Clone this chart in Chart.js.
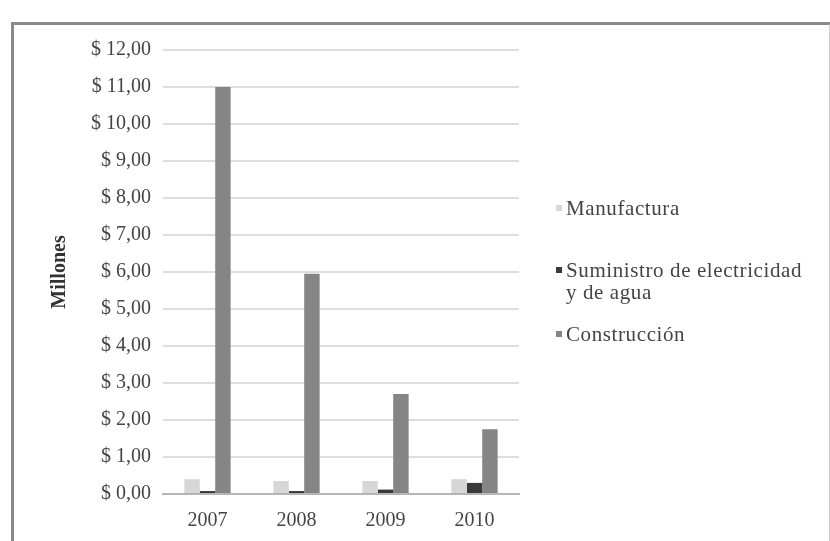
<!DOCTYPE html>
<html>
<head>
<meta charset="utf-8">
<script src="https://cdn.jsdelivr.net/npm/chart.js@4"></script>
<style>
  html, body { margin: 0; padding: 0; background: #fff; }
  #wrap { position: relative; width: 830px; height: 541px; overflow: hidden; }
  #frame { position: absolute; left: 11px; top: 22px; width: 815px; height: 540px;
           border-left: 3px solid #8a8a8a; border-top: 3px solid #8a8a8a; border-right: 2px solid #cfcfcf; }
  #legend { position: absolute; left: 556px; top: 197px; font: 21px "Liberation Serif", serif; color: #444; letter-spacing: 0.6px; }
  #legend .item { position: absolute; left: 0; white-space: nowrap; line-height: 22px; }
  #legend .sw { display: inline-block; width: 6px; height: 6px; margin-right: 4px; vertical-align: 4px; }
</style>
</head>
<body>
<div id="wrap">
  <div id="frame"></div>
  <canvas id="chart" width="830" height="541"></canvas>
  <div id="legend"></div>
</div>
<script>
// values (millones)
const years = ["2007", "2008", "2009", "2010"];
const manufactura = [0.4, 0.35, 0.35, 0.4];
const suministro = [0.08, 0.08, 0.12, 0.3];
const construccion = [11.0, 5.95, 2.7, 1.75];
const seriesNames = ["Manufactura", "Suministro de electricidad\ny de agua", "Construcción"];
const seriesColors = ["#d6d6d6", "#3a3a3a", "#858585"];

const font = { family: "'Liberation Serif', serif", size: 20 };

const ctx = document.getElementById("chart").getContext("2d");
const chart = new Chart(ctx, {
  type: "bar",
  data: {
    labels: years,
    datasets: [manufactura, suministro, construccion].map((d, i) => ({
      label: seriesNames[i],
      data: d,
      backgroundColor: seriesColors[i],
      borderWidth: 0,
      categoryPercentage: 0.52,
      barPercentage: 1.0,
    })),
  },
  options: {
    responsive: false,
    animation: false,
    layout: { padding: { left: 48, right: 311, top: 50, bottom: 0 } },
    plugins: { legend: { display: false }, tooltip: { enabled: false } },
    scales: {
      x: {
        afterFit: (s) => { s.height = 47; },
        grid: { display: false },
        border: { color: "#b5b5b5", width: 2 },
        ticks: { color: "#444", font: font, padding: 7 },
      },
      y: {
        min: 0,
        max: 12,
        afterFit: (s) => { s.width = 115; },
        grid: { color: "#dedede", lineWidth: 2, drawTicks: false },
        border: { display: false },
        ticks: {
          stepSize: 1,
          color: "#444",
          font: font,
          padding: 12,
          callback: (v) => "$ " + v.toFixed(2).replace(".", ","),
        },
        title: { display: true, text: "Millones", color: "#333", font: { family: font.family, size: 20, weight: "bold" }, padding: 0 },
      },
    },
  },
});

// html legend, so the second label can wrap like the reference
const legendEl = document.getElementById("legend");
const tops = [0, 62, 126];
seriesNames.forEach((name, i) => {
  const item = document.createElement("div");
  item.className = "item";
  item.style.top = tops[i] + "px";
  const lines = name.split("\n");
  item.innerHTML = '<span class="sw" style="background:' + seriesColors[i] + '"></span>' + lines[0] +
    (lines[1] ? '<br><span style="padding-left:10px">' + lines[1] + "</span>" : "");
  legendEl.appendChild(item);
});
</script>
</body>
</html>
